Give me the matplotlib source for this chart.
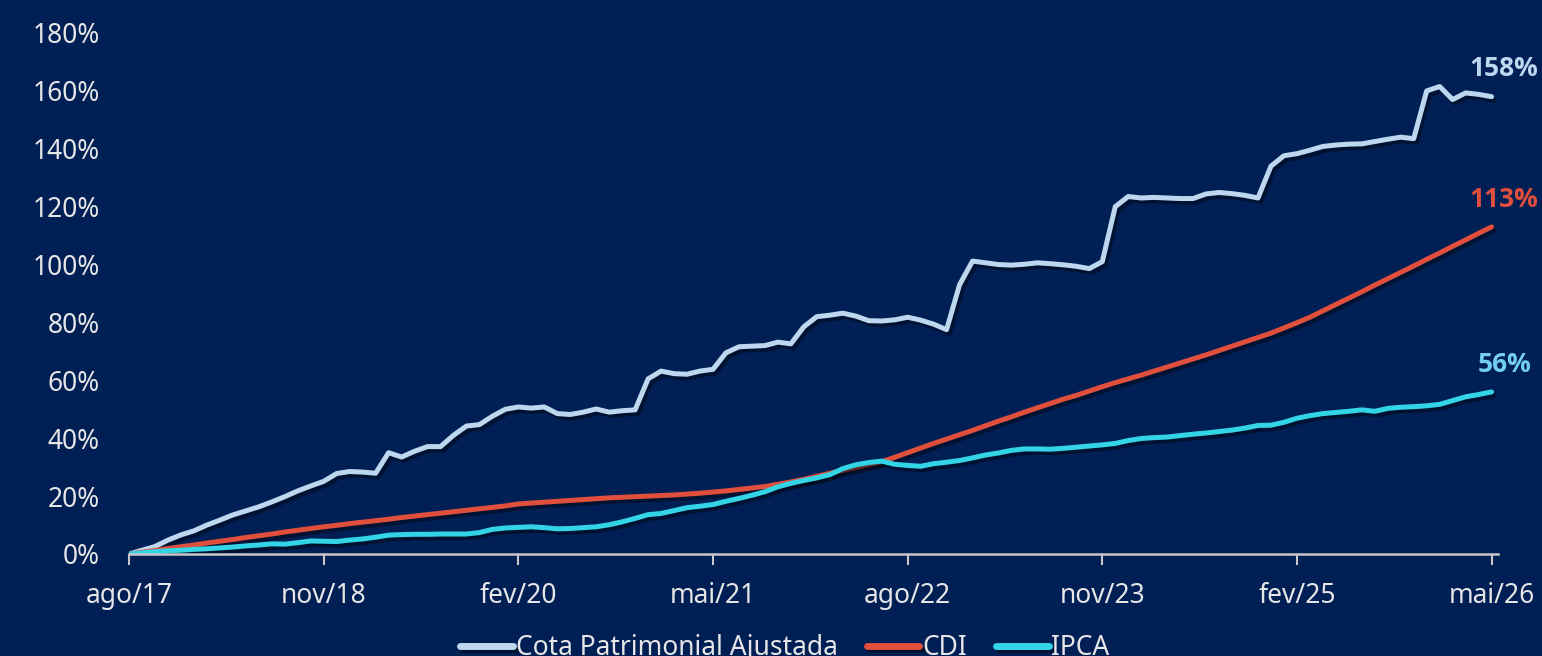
import numpy as np
import matplotlib
matplotlib.use("Agg")
import matplotlib.pyplot as plt
import matplotlib.patheffects as pe
from matplotlib.ticker import FuncFormatter

# === dados mensais (rentabilidade acumulada, %) ===
meses = np.arange(106)  # ago/17 ... mai/26

cota = [0, 1.3, 2.6, 4.8, 6.6, 8.0, 10.0, 11.7, 13.5, 14.9,
        16.3, 18.0, 19.8, 21.8, 23.5, 25.1, 27.8, 28.5, 28.3, 27.9,
        35.0, 33.5, 35.5, 37.1, 37.1, 41.0, 44.2, 44.7, 47.6, 50.0,
        50.8, 50.4, 50.8, 48.5, 48.2, 49.0, 50.1, 49.0, 49.5, 49.8,
        60.5, 63.2, 62.3, 62.1, 63.2, 63.8, 69.5, 71.6, 71.8, 72.0,
        73.2, 72.6, 78.5, 82.0, 82.5, 83.2, 82.2, 80.6, 80.5, 80.9,
        81.8, 80.8, 79.4, 77.5, 93.0, 101.2, 100.6, 100.0, 99.8, 100.1,
        100.6, 100.3, 99.9, 99.4, 98.6, 101.0, 120.0, 123.5, 123.0, 123.2,
        123.0, 122.8, 122.8, 124.4, 124.9, 124.5, 123.9, 123.0, 134.0, 137.6,
        138.3, 139.5, 140.8, 141.3, 141.6, 141.7, 142.5, 143.3, 144.0, 143.5,
        160.0, 161.5, 157.0, 159.3, 158.8, 158.0]

cdi = [0, 0.6, 1.2, 1.9, 2.5, 3.1, 3.8, 4.4, 5.0, 5.7,
       6.3, 6.9, 7.6, 8.2, 8.8, 9.4, 9.9, 10.5, 11.0, 11.5,
       12.0, 12.6, 13.1, 13.6, 14.1, 14.6, 15.1, 15.6, 16.1, 16.6,
       17.3, 17.6, 17.9, 18.2, 18.5, 18.8, 19.1, 19.4, 19.6, 19.8,
       20.0, 20.2, 20.4, 20.7, 21.0, 21.4, 21.8, 22.3, 22.8, 23.3,
       24.1, 24.9, 25.8, 26.8, 27.9, 28.9, 29.9, 30.9, 31.9, 33.4,
       35.0, 36.6, 38.2, 39.7, 41.2, 42.7, 44.3, 45.9, 47.4, 49.0,
       50.5, 52.0, 53.5, 54.8, 56.3, 57.8, 59.2, 60.5, 61.8, 63.2,
       64.6, 66.0, 67.4, 68.8, 70.3, 71.8, 73.3, 74.8, 76.3, 78.1,
       79.9, 81.8, 84.0, 86.2, 88.4, 90.6, 92.9, 95.1, 97.3, 99.5,
       101.8, 104.0, 106.3, 108.5, 110.8, 113.0]

ipca = [0, 0.4, 0.8, 1.1, 1.3, 1.6, 1.8, 2.1, 2.4, 2.8,
        3.1, 3.5, 3.4, 3.9, 4.5, 4.4, 4.3, 4.8, 5.2, 5.8,
        6.5, 6.7, 6.8, 6.8, 6.9, 6.9, 6.9, 7.4, 8.5, 9.0,
        9.2, 9.4, 9.1, 8.7, 8.8, 9.1, 9.4, 10.1, 11.1, 12.3,
        13.6, 14.0, 15.0, 16.0, 16.5, 17.1, 18.2, 19.2, 20.3, 21.5,
        23.2, 24.4, 25.4, 26.3, 27.4, 29.5, 30.8, 31.6, 32.1, 31.0,
        30.6, 30.3, 31.2, 31.7, 32.3, 33.2, 34.2, 34.9, 35.8, 36.3,
        36.3, 36.2, 36.5, 36.9, 37.3, 37.7, 38.2, 39.2, 39.9, 40.2,
        40.4, 40.9, 41.4, 41.8, 42.3, 42.8, 43.5, 44.4, 44.5, 45.5,
        46.9, 47.8, 48.5, 48.9, 49.3, 49.8, 49.3, 50.3, 50.7, 50.9,
        51.2, 51.7, 53.0, 54.3, 55.1, 56.0]

tick_pos = [0, 15, 30, 45, 60, 75, 90, 105]
tick_lbl = ["ago/17", "nov/18", "fev/20", "mai/21", "ago/22", "nov/23", "fev/25", "mai/26"]

series = [("Cota Patrimonial Ajustada", cota, "#bdd7ee", "#bdd7ee"),
          ("CDI", cdi, "#e04e3c", "#e04e3c"),
          ("IPCA", ipca, "#32d4e6", "#72cff2")]

# === estilo ===
bg = "#001f55"
txt = "#e6e6e6"
plt.rcParams["font.family"] = ["Noto Sans", "DejaVu Sans"]

fig = plt.figure(figsize=(15.42, 6.56), dpi=100, facecolor=bg)
ax = fig.add_axes([0.0837, 0.1555, 0.8878, 0.7942], facecolor=bg)

shadow = [pe.SimpleLineShadow(offset=(2, -2.5), shadow_color="#000814", alpha=0.55),
          pe.Normal()]

for nome, vals, cor, cor_lbl in series:
    ax.plot(meses, vals, color=cor, lw=3.6, label=nome,
            solid_capstyle="round", solid_joinstyle="round", path_effects=shadow)
    ax.annotate(f"{vals[-1]:.0f}%", (meses[-1], vals[-1]), xytext=(9, 20),
                textcoords="offset points", ha="center", va="center",
                fontsize=19, fontweight="bold", family=["Open Sans", "DejaVu Sans"],
                color=cor_lbl, annotation_clip=False)

ax.set_xlim(0, 105.5)
ax.set_ylim(0, 180)
ax.set_yticks(np.arange(0, 181, 20))
ax.yaxis.set_major_formatter(FuncFormatter(lambda v, _: f"{v:.0f}%"))
ax.set_xticks(tick_pos)
ax.set_xticklabels(tick_lbl)

for s in ["top", "right", "left"]:
    ax.spines[s].set_visible(False)
ax.spines["bottom"].set_color("#c8c8c8")
ax.spines["bottom"].set_linewidth(1.8)
ax.tick_params(axis="y", length=0, pad=21, labelsize=19, labelcolor=txt)
ax.tick_params(axis="x", length=8, width=1.5, color="#c8c8c8", pad=12,
               labelsize=19, labelcolor=txt)

leg = fig.legend(loc="center", bbox_to_anchor=(0.509, 0.012), ncol=3, frameon=False,
                 fontsize=19, handlelength=2.0, handletextpad=0.1, columnspacing=1.1)
for t in leg.get_texts():
    t.set_color(txt)
for h in leg.get_lines():
    h.set_linewidth(5)

fig.savefig("out.png", dpi=100, facecolor=bg)
